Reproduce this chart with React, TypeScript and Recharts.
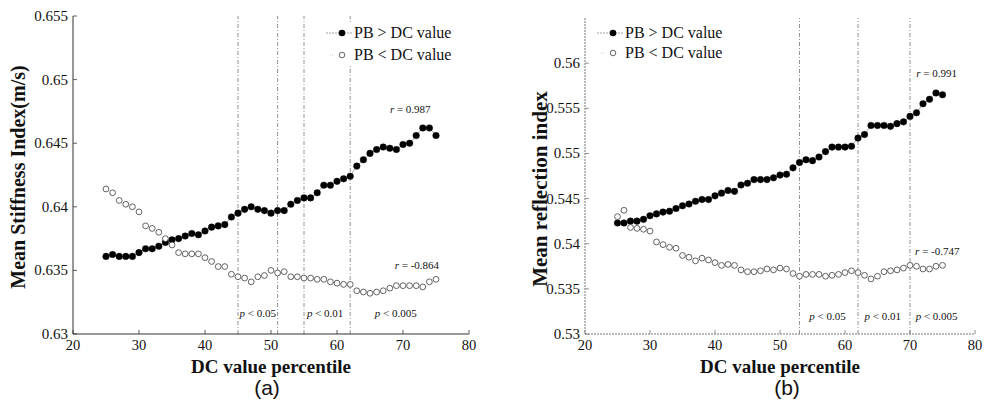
import React from "react";
import {
  ComposedChart,
  Line,
  XAxis,
  YAxis,
  ReferenceLine,
  ReferenceDot,
  Legend,
} from "recharts";

// DC value percentile (x for every point)
const percentiles = [
  25, 26, 27, 28, 29, 30, 31, 32, 33, 34, 35, 36, 37, 38, 39, 40, 41, 42, 43, 44,
  45, 46, 47, 48, 49, 50, 51, 52, 53, 54, 55, 56, 57, 58, 59, 60, 61, 62, 63, 64,
  65, 66, 67, 68, 69, 70, 71, 72, 73, 74, 75,
];

// (a) mean stiffness index
const stiffAbove = [
  0.6361, 0.63625, 0.6361, 0.6361, 0.6361, 0.6364, 0.6367, 0.6367, 0.6369, 0.6372,
  0.6374, 0.6375, 0.6377, 0.6379, 0.6378, 0.6381, 0.6384, 0.6385, 0.6386, 0.6392,
  0.6395, 0.6398, 0.64, 0.6398, 0.6397, 0.6395, 0.6397, 0.6397, 0.6402, 0.6405,
  0.6407, 0.6407, 0.6411, 0.6417, 0.6417, 0.642, 0.6422, 0.6424, 0.6432, 0.6437,
  0.6442, 0.6445, 0.6447, 0.6446, 0.6445, 0.6449, 0.645, 0.6456, 0.6462, 0.6462, 0.6456,
];
const stiffBelow = [
  0.6414, 0.6411, 0.6405, 0.6402, 0.64, 0.6396, 0.6385, 0.6383, 0.638, 0.6375,
  0.637, 0.6364, 0.6363, 0.6363, 0.6363, 0.636, 0.6357, 0.6353, 0.6353, 0.6347,
  0.6345, 0.6344, 0.6341, 0.6345, 0.6346, 0.635, 0.6348, 0.6349, 0.6345, 0.6345,
  0.6344, 0.6344, 0.6343, 0.6343, 0.6341, 0.634, 0.6339, 0.6339, 0.6334, 0.6333,
  0.6332, 0.6333, 0.6334, 0.6336, 0.6338, 0.6338, 0.6338, 0.6338, 0.6337, 0.6341, 0.6343,
];

// (b) mean reflection index
const reflAbove = [
  0.5423, 0.5423, 0.5425, 0.5425, 0.5427, 0.5431, 0.5433, 0.5435, 0.5436, 0.5439,
  0.5442, 0.5444, 0.5447, 0.5449, 0.5449, 0.5453, 0.5456, 0.5459, 0.5458, 0.5465,
  0.5467, 0.5471, 0.5471, 0.5471, 0.5473, 0.5476, 0.5477, 0.5484, 0.549, 0.5493,
  0.5492, 0.5496, 0.5502, 0.5507, 0.5507, 0.5507, 0.5508, 0.5517, 0.5521, 0.5531,
  0.5531, 0.5531, 0.553, 0.5533, 0.5535, 0.5541, 0.5545, 0.5555, 0.556, 0.5567, 0.5565,
];
const reflBelow = [
  0.543, 0.5437, 0.5418, 0.5417, 0.5416, 0.5414, 0.5402, 0.5399, 0.5396, 0.5395,
  0.5387, 0.5385, 0.5381, 0.5384, 0.5382, 0.5379, 0.5376, 0.5377, 0.5376, 0.5371,
  0.5369, 0.5369, 0.537, 0.5372, 0.5371, 0.5373, 0.5372, 0.5367, 0.5364, 0.5366,
  0.5366, 0.5366, 0.5364, 0.5365, 0.5366, 0.5368, 0.537, 0.5368, 0.5365, 0.5361,
  0.5364, 0.5369, 0.537, 0.5371, 0.5373, 0.5376, 0.5375, 0.5372, 0.5372, 0.5375, 0.5376,
];

const xTicks = [20, 30, 40, 50, 60, 70, 80];
const stiffTicks = [0.63, 0.635, 0.64, 0.645, 0.65, 0.655];
const reflTicks = [0.53, 0.535, 0.54, 0.545, 0.55, 0.555, 0.56];

const stiffCuts = [45, 51, 55, 62];
const reflCuts = [53, 62, 70];

const stiffNotes = [
  { x: 48, y: 0.63166, it: "p", rest: " < 0.05" },
  { x: 58.2, y: 0.63166, it: "p", rest: " < 0.01" },
  { x: 68.9, y: 0.63166, it: "p", rest: " < 0.005" },
  { x: 71.1, y: 0.64766, it: "r", rest: " = 0.987" },
  { x: 72.1, y: 0.63544, it: "r", rest: " = -0.864" },
];
const reflNotes = [
  { x: 57.3, y: 0.532, it: "p", rest: " < 0.05" },
  { x: 65.8, y: 0.532, it: "p", rest: " < 0.01" },
  { x: 74.1, y: 0.532, it: "p", rest: " < 0.005" },
  { x: 74.1, y: 0.55894, it: "r", rest: " = 0.991" },
  { x: 74.2, y: 0.53923, it: "r", rest: " = -0.747" },
];

const serif = "'Liberation Serif', 'Times New Roman', serif";
const sans = "'Liberation Sans', Arial, sans-serif";

const stiffData = percentiles.map((p, i) => ({ p, above: stiffAbove[i], below: stiffBelow[i] }));
const reflData = percentiles.map((p, i) => ({ p, above: reflAbove[i], below: reflBelow[i] }));

// ticks point inward like the original plot
const makeYTick = (axisX: number, color: string) => (props: any) => {
  const { y, payload } = props;
  return (
    <g>
      <line x1={axisX} x2={axisX + 4} y1={y} y2={y} stroke={color} strokeWidth={0.8} />
      <text x={axisX - 5} y={y} textAnchor="end" dominantBaseline="central" style={{ fontFamily: serif, fontSize: 15 }} fill="#111">
        {payload.value}
      </text>
    </g>
  );
};

const makeXTick = (axisY: number, color: string) => (props: any) => {
  const { x, payload } = props;
  return (
    <g>
      <line x1={x} x2={x} y1={axisY} y2={axisY - 4} stroke={color} strokeWidth={0.8} />
      <text x={x} y={axisY + 11} textAnchor="middle" dominantBaseline="central" style={{ fontFamily: serif, fontSize: 14.5 }} fill="#111">
        {payload.value}
      </text>
    </g>
  );
};

const Note = (props: any) => {
  const { viewBox, it, rest } = props;
  const cx = viewBox.x + (viewBox.width || 0) / 2;
  const cy = viewBox.y + (viewBox.height || 0) / 2;
  return (
    <text x={cx} y={cy} textAnchor="middle" dominantBaseline="central" style={{ fontFamily: serif, fontSize: 11 }} fill="#111">
      <tspan fontStyle="italic">{it}</tspan>
      {rest}
    </text>
  );
};

const LegendBox = ({ rowGap }: { rowGap: number }) => (
  <div style={{ background: "#fff", fontFamily: serif, fontSize: 16, color: "#111" }}>
    <div style={{ display: "flex", alignItems: "center", height: rowGap }}>
      <svg width={26} height={12} style={{ marginRight: 2 }}>
        <line x1={0} x2={26} y1={6} y2={6} stroke="#888" strokeWidth={0.8} strokeDasharray="2 1" />
        <circle cx={16} cy={6} r={3.3} fill="#000" />
      </svg>
      <span>PB &gt; DC value</span>
    </div>
    <div style={{ display: "flex", alignItems: "center", height: rowGap }}>
      <svg width={26} height={12} style={{ marginRight: 2 }}>
        <line x1={4} x2={8} y1={6} y2={6} stroke="#bbb" strokeWidth={0.8} strokeDasharray="1 1" />
        <circle cx={16} cy={6} r={2.8} fill="#fff" stroke="#222" strokeWidth={0.7} />
      </svg>
      <span>PB &lt; DC value</span>
    </div>
  </div>
);

type PanelProps = {
  data: any[];
  width: number;
  margin: { top: number; right: number; bottom: number; left: number };
  yDomain: [number, number];
  yTicks: number[];
  cuts: number[];
  notes: { x: number; y: number; it: string; rest: string }[];
  axisStyle: any;
  legendPos: { left: number; top: number };
  rowGap: number;
};

const Panel = ({ data, width, margin, yDomain, yTicks, cuts, notes, axisStyle, legendPos, rowGap }: PanelProps) => {
  const axisX = margin.left + 60;
  const axisY = 411 - margin.bottom - 30;
  return (
    <ComposedChart width={width} height={411} data={data} margin={margin}>
      <XAxis
        dataKey="p"
        type="number"
        domain={[20, 80]}
        ticks={xTicks}
        height={30}
        axisLine={axisStyle}
        tickLine={false}
        tick={makeXTick(axisY, axisStyle.stroke)}
        interval={0}
      />
      <YAxis
        type="number"
        domain={yDomain}
        ticks={yTicks}
        width={60}
        axisLine={axisStyle}
        tickLine={false}
        tick={makeYTick(axisX, axisStyle.stroke)}
        interval={0}
        allowDataOverflow
      />
      {cuts.map((c) => (
        <ReferenceLine key={c} x={c} stroke="#777" strokeWidth={0.8} strokeDasharray="4 2 1 2" />
      ))}
      <Line
        dataKey="above"
        name="PB > DC value"
        stroke="#999"
        strokeWidth={0.8}
        dot={{ r: 3.3, fill: "#000", stroke: "#000", strokeWidth: 0.4 }}
        activeDot={false}
        isAnimationActive={false}
      />
      <Line
        dataKey="below"
        name="PB < DC value"
        stroke="none"
        dot={{ r: 2.9, fill: "#fff", stroke: "#222", strokeWidth: 0.7 }}
        activeDot={false}
        isAnimationActive={false}
      />
      {notes.map((n, i) => (
        <ReferenceDot
          key={i}
          x={n.x}
          y={n.y}
          r={0}
          stroke="none"
          fill="none"
          ifOverflow="visible"
          label={<Note it={n.it} rest={n.rest} />}
        />
      ))}
      <Legend
        layout="vertical"
        verticalAlign="middle"
        align="center"
        wrapperStyle={{ left: legendPos.left, top: legendPos.top, width: "auto", height: "auto" }}
        content={() => <LegendBox rowGap={rowGap} />}
      />
    </ComposedChart>
  );
};

const titleStyle: React.CSSProperties = {
  position: "absolute",
  fontFamily: serif,
  fontWeight: "bold",
  color: "#111",
  whiteSpace: "nowrap",
};

export default function App() {
  return (
    <div style={{ position: "absolute", left: 0, top: 0, width: 984, height: 411, background: "#fff", overflow: "hidden" }}>
      <div style={{ position: "absolute", left: 0, top: 0 }}>
        <Panel
          data={stiffData}
          width={490}
          margin={{ top: 16, right: 21, bottom: 47, left: 13 }}
          yDomain={[0.63, 0.655]}
          yTicks={stiffTicks}
          cuts={stiffCuts}
          notes={stiffNotes}
          axisStyle={{ stroke: "#333", strokeWidth: 1 }}
          legendPos={{ left: 326, top: 22 }}
          rowGap={22}
        />
      </div>
      <div style={{ position: "absolute", left: 490, top: 0 }}>
        <Panel
          data={reflData}
          width={494}
          margin={{ top: 18, right: 9, bottom: 47, left: 35 }}
          yDomain={[0.53, 0.565]}
          yTicks={reflTicks}
          cuts={reflCuts}
          notes={reflNotes}
          axisStyle={{ stroke: "#777", strokeWidth: 1, strokeDasharray: "2 1" }}
          legendPos={{ left: 107, top: 23 }}
          rowGap={20}
        />
      </div>

      <div style={{ ...titleStyle, fontSize: 20, left: 18, top: 177, transform: "translate(-50%, -50%) rotate(-90deg)" }}>
        Mean Stiffness Index(m/s)
      </div>
      <div style={{ ...titleStyle, fontSize: 21, left: 540, top: 189, transform: "translate(-50%, -50%) rotate(-90deg)" }}>
        Mean reflection index
      </div>
      <div style={{ ...titleStyle, fontSize: 19, left: 271, top: 367, transform: "translate(-50%, -50%)" }}>
        DC value percentile
      </div>
      <div style={{ ...titleStyle, fontSize: 19, left: 780, top: 367, transform: "translate(-50%, -50%)" }}>
        DC value percentile
      </div>
      <div style={{ position: "absolute", fontFamily: sans, fontSize: 21, left: 267, top: 388, transform: "translate(-50%, -50%)", color: "#111" }}>
        (a)
      </div>
      <div style={{ position: "absolute", fontFamily: sans, fontSize: 21, left: 787, top: 388, transform: "translate(-50%, -50%)", color: "#111" }}>
        (b)
      </div>
    </div>
  );
}
